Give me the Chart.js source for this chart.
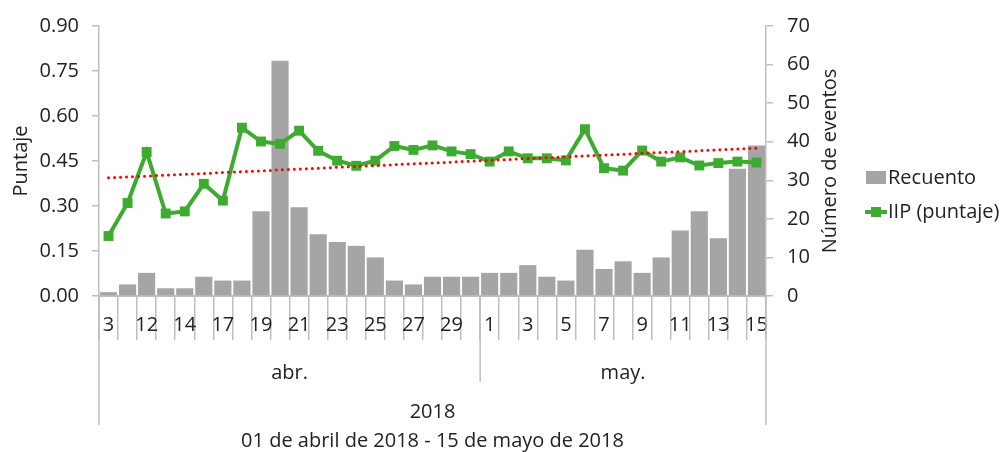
<!DOCTYPE html>
<html lang="es">
<head>
    <meta charset="UTF-8">
    <title>IIP y recuento de eventos</title>
    <script src="https://cdn.jsdelivr.net/npm/chart.js"></script>
    <style>
        body { margin: 0; background: #fff; }
        #wrap { width: 1003px; height: 452px; position: relative; }
    </style>
</head>
<body>
    <div id="wrap"><canvas id="myChart"></canvas></div>
    <script>
        // dias con registro (abril / mayo 2018)
        const aprDays = ["3", "11", "12", "13", "14", "16", "17", "18", "19", "20",
                         "21", "22", "23", "24", "25", "26", "27", "28", "29", "30"];
        const mayDays = ["1", "2", "3", "4", "5", "6", "7", "8", "9", "10",
                         "11", "12", "13", "14", "15"];
        const countApr = [1, 3, 6, 2, 2, 5, 4, 4, 22, 61, 23, 16, 14, 13, 10, 4, 3, 5, 5, 5];
        const countMay = [6, 6, 8, 5, 4, 12, 7, 9, 6, 10, 17, 22, 15, 33, 39];
        const iipApr = [0.20, 0.31, 0.48, 0.275, 0.282, 0.374, 0.318, 0.561, 0.515, 0.507,
                        0.551, 0.484, 0.451, 0.434, 0.451, 0.500, 0.487, 0.502, 0.482, 0.473];
        const iipMay = [0.448, 0.482, 0.459, 0.459, 0.452, 0.556, 0.426, 0.418, 0.485, 0.448,
                        0.462, 0.435, 0.443, 0.448, 0.445];
        // extremos de la linea de tendencia
        const trendStart = 0.394;
        const trendEnd = 0.493;
        const months = ["abr.", "may."];
        const yearLabel = "2018";
        const axisTitle = "01 de abril de 2018 - 15 de mayo de 2018";
        const leftTicks = { min: 0, max: 0.9, step: 0.15 };
        const rightTicks = { min: 0, max: 70, step: 10 };

        const labels = aprDays.concat(mayDays);
        const counts = countApr.concat(countMay);
        const iip = iipApr.concat(iipMay);
        const trend = labels.map(() => null);
        trend[0] = trendStart;
        trend[labels.length - 1] = trendEnd;

        const FONT = "'Open Sans', sans-serif";
        const TXT = "#222222";
        const AXIS = "#bfbfbf";
        const GREEN = "#3dab2f";
        const GRAY = "#a5a5a5";

        const extraAxis = {
            id: "extraAxis",
            afterDraw(chart) {
                const ctx = chart.ctx;
                const area = chart.chartArea;
                const x = chart.scales.x;
                const half = (x.getPixelForValue(1) - x.getPixelForValue(0)) / 2;
                const left = x.getPixelForValue(0) - half;
                const right = x.getPixelForValue(labels.length - 1) + half;
                const split = x.getPixelForValue(aprDays.length - 1) + half;
                const b = area.bottom;

                ctx.save();
                ctx.strokeStyle = AXIS;
                ctx.lineWidth = 1.5;
                ctx.beginPath();
                ctx.moveTo(left, b); ctx.lineTo(left, b + 129);
                ctx.moveTo(right, b); ctx.lineTo(right, b + 129);
                ctx.moveTo(split, b); ctx.lineTo(split, b + 86);
                ctx.stroke();

                ctx.fillStyle = TXT;
                ctx.font = "20px " + FONT;
                ctx.textAlign = "center";
                ctx.textBaseline = "middle";
                ctx.fillText(months[0], (left + split) / 2, b + 77);
                ctx.fillText(months[1], (split + right) / 2, b + 77);
                ctx.fillText(yearLabel, (left + right) / 2, b + 116);
                ctx.fillText(axisTitle, (left + right) / 2, b + 145);

                // titulo eje derecho
                ctx.save();
                ctx.translate(830, (area.top + area.bottom) / 2);
                ctx.rotate(-Math.PI / 2);
                ctx.fillText("Número de eventos", 0, 0);
                ctx.restore();

                // leyenda
                ctx.textAlign = "left";
                ctx.fillStyle = GRAY;
                ctx.fillRect(866, 171, 20, 13);
                ctx.fillStyle = TXT;
                ctx.fillText("Recuento", 888, 178);
                ctx.strokeStyle = GREEN;
                ctx.lineWidth = 4;
                ctx.beginPath();
                ctx.moveTo(865, 212); ctx.lineTo(887, 212);
                ctx.stroke();
                ctx.fillStyle = GREEN;
                ctx.fillRect(871, 207, 10, 10);
                ctx.fillStyle = TXT;
                ctx.fillText("IIP (puntaje)", 888, 212);
                ctx.restore();
            }
        };

        Chart.defaults.font.family = FONT;
        Chart.defaults.font.size = 20;
        Chart.defaults.color = TXT;

        const ctx = document.getElementById("myChart").getContext("2d");
        new Chart(ctx, {
            type: "bar",
            data: {
                labels: labels,
                datasets: [
                    {
                        type: "line",
                        label: "Tendencia",
                        data: trend,
                        yAxisID: "y",
                        borderColor: "#ff0000",
                        borderWidth: 3,
                        borderDash: [0, 6],
                        borderCapStyle: "round",
                        pointRadius: 0,
                        spanGaps: true,
                        order: 0
                    },
                    {
                        type: "line",
                        label: "IIP (puntaje)",
                        data: iip,
                        yAxisID: "y",
                        borderColor: GREEN,
                        backgroundColor: GREEN,
                        borderWidth: 4,
                        pointStyle: "rect",
                        pointRadius: 7,
                        pointBorderWidth: 0,
                        tension: 0,
                        order: 1
                    },
                    {
                        label: "Recuento",
                        data: counts,
                        yAxisID: "y1",
                        backgroundColor: GRAY,
                        categoryPercentage: 0.9,
                        barPercentage: 1,
                        order: 2
                    }
                ]
            },
            options: {
                responsive: true,
                maintainAspectRatio: false,
                animation: false,
                layout: { padding: { top: 25, left: 0, right: 0, bottom: 0 } },
                plugins: {
                    legend: { display: false },
                    tooltip: { enabled: false }
                },
                scales: {
                    x: {
                        offset: true,
                        grid: {
                            offset: true,
                            drawOnChartArea: false,
                            drawTicks: true,
                            tickLength: 44,
                            color: AXIS,
                            lineWidth: 1.5
                        },
                        border: { color: AXIS, width: 2 },
                        ticks: {
                            autoSkip: false,
                            maxRotation: 0,
                            padding: -27,
                            callback: function(value, index) {
                                return index % 2 === 0 ? labels[index] : "";
                            }
                        },
                        afterFit: function(scale) { scale.height = 156; }
                    },
                    y: {
                        position: "left",
                        min: leftTicks.min,
                        max: leftTicks.max,
                        ticks: {
                            stepSize: leftTicks.step,
                            padding: 13,
                            callback: v => v.toFixed(2)
                        },
                        grid: { drawOnChartArea: false, tickLength: 7, color: AXIS, lineWidth: 1.5 },
                        border: { color: AXIS, width: 1.5 },
                        title: { display: true, text: "Puntaje", padding: { top: 9, bottom: 0 } },
                        afterFit: function(scale) { scale.width = 99; }
                    },
                    y1: {
                        position: "right",
                        min: rightTicks.min,
                        max: rightTicks.max,
                        ticks: { stepSize: rightTicks.step, padding: 14 },
                        grid: { drawOnChartArea: false, tickLength: 7, color: AXIS, lineWidth: 1.5 },
                        border: { color: AXIS, width: 1.5 },
                        afterFit: function(scale) { scale.width = 237; }
                    }
                }
            },
            plugins: [extraAxis]
        });
    </script>
</body>
</html>
